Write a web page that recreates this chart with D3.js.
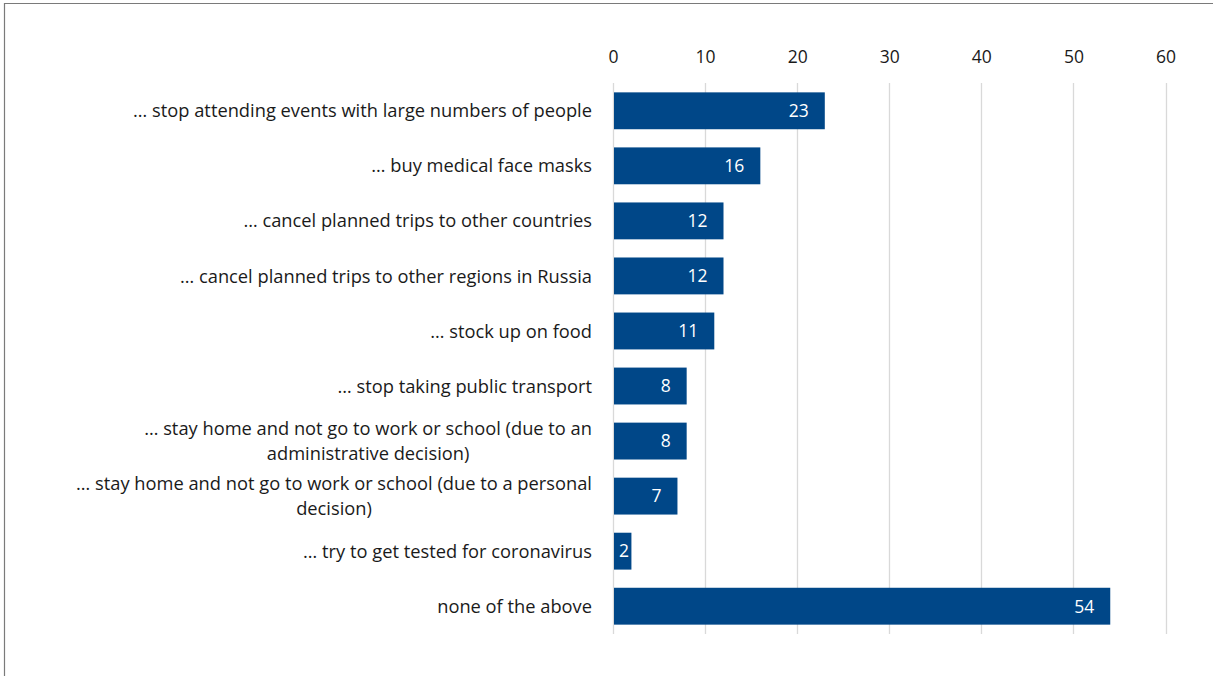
<!DOCTYPE html>
<html>
<head>
<meta charset="utf-8">
<script src="https://cdn.jsdelivr.net/npm/d3@7"></script>
<style>
  html, body { margin: 0; padding: 0; background: #fff; }
  svg { display: block; }
  text { font-family: "Open Sans", "Noto Sans", sans-serif; }
</style>
</head>
<body>
<svg id="chart" width="1213" height="676"></svg>
<script>
// Survey answers: what respondents would do, % of respondents
const categories = [
  ["… stop attending events with large numbers of people"],
  ["… buy medical face masks"],
  ["… cancel planned trips to other countries"],
  ["…  cancel planned trips to other regions in Russia"],
  ["…  stock up on food"],
  ["…  stop taking public transport"],
  ["… stay home and not go to work or school (due to an", "administrative decision)"],
  ["… stay home and not go to work or school (due to a personal", "decision)"],
  ["…  try to get tested for coronavirus"],
  ["none of the above"]
];
const values = [23, 16, 12, 12, 11, 8, 8, 7, 2, 54];
const ticks = [0, 10, 20, 30, 40, 50, 60];

const svg = d3.select("#chart");
const W = 1213, H = 676;
const FS = 17.5;     // numbers
const FS_CAT = 18.3; // category labels

// frame
svg.append("path")
  .attr("d", `M4.5,${H} V3.5 H${W}`)
  .attr("fill", "none")
  .attr("stroke", "#7a7a7a")
  .attr("stroke-width", 1.2);

const x = d3.scaleLinear().domain([0, 60]).range([613, 1165.5]);
const y = d3.scaleBand().domain(d3.range(categories.length)).range([83, 634]).paddingInner(0.33).paddingOuter(0.17);

// gridlines
svg.append("g").selectAll("line").data(ticks).join("line")
  .attr("x1", d => Math.round(x(d)) + 0.5).attr("x2", d => Math.round(x(d)) + 0.5)
  .attr("y1", 83).attr("y2", 634)
  .attr("stroke", "#d9d9d9").attr("stroke-width", 1.3);

// top axis labels
const axis = d3.axisTop(x).tickValues(ticks).tickSize(0).tickPadding(0);
const ag = svg.append("g").attr("transform", "translate(0,63)").call(axis);
ag.select(".domain").remove();
ag.selectAll("text").attr("font-size", FS).attr("fill", "#1a1a1a").attr("font-family", "'Open Sans', 'Noto Sans', sans-serif");

// bars
svg.append("g").selectAll("rect").data(values).join("rect")
  .attr("x", x(0) + 1)
  .attr("y", (d, i) => y(i))
  .attr("width", d => x(d) - x(0) - 1)
  .attr("height", y.bandwidth())
  .attr("fill", "#004788");

// value labels inside bar ends
svg.append("g").selectAll("text").data(values).join("text")
  .attr("x", d => Math.max(x(d) - 16, x(0) + 16))
  .attr("y", (d, i) => y(i) + y.bandwidth() / 2)
  .attr("dy", "0.36em")
  .attr("text-anchor", "end")
  .attr("font-size", FS)
  .attr("fill", "#fff")
  .text(d => d);

// category labels: block right-aligned, lines centered within block
const lab = svg.append("g");
categories.forEach((lines, i) => {
  const cy = y(i) + y.bandwidth() / 2;
  const lh = 25;
  const t = lines.map((s, k) => lab.append("text")
    .attr("font-size", FS_CAT).attr("fill", "#1a1a1a")
    .attr("text-anchor", "middle")
    .attr("y", cy + (k - (lines.length - 1) / 2) * lh)
    .attr("dy", "0.36em")
    .text(s));
  const wmax = d3.max(t, n => n.node().getComputedTextLength());
  t.forEach(n => n.attr("x", 592 - wmax / 2));
});
</script>
</body>
</html>
